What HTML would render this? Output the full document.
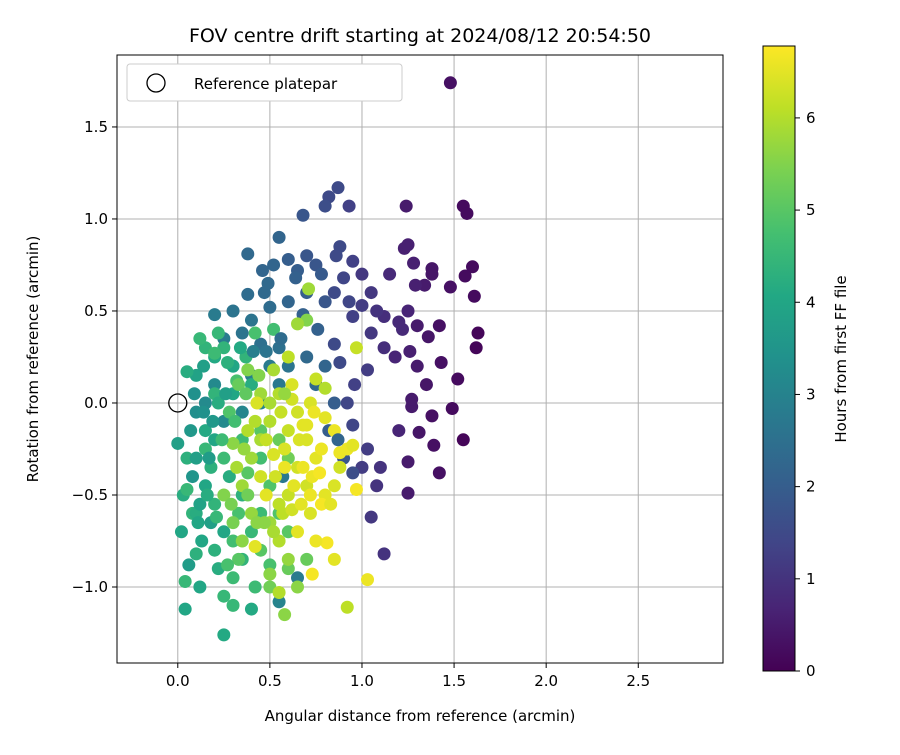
<!DOCTYPE html>
<html><head><meta charset="utf-8"><style>
body{margin:0;background:#fff;}
svg{font-family:"DejaVu Sans","Liberation Sans",sans-serif;}
</style></head><body>
<svg id="chart" width="900" height="750" xmlns="http://www.w3.org/2000/svg">
<defs>
<linearGradient id="vir" x1="0" y1="1" x2="0" y2="0">
<stop offset="0" stop-color="#440154"/><stop offset="0.1" stop-color="#482475"/><stop offset="0.2" stop-color="#414487"/><stop offset="0.3" stop-color="#355f8d"/><stop offset="0.4" stop-color="#2a788e"/><stop offset="0.5" stop-color="#21918c"/><stop offset="0.6" stop-color="#22a884"/><stop offset="0.7" stop-color="#44bf70"/><stop offset="0.8" stop-color="#7ad151"/><stop offset="0.9" stop-color="#bddf26"/><stop offset="1" stop-color="#fde725"/>
</linearGradient>
<clipPath id="pc"><rect x="117" y="55" width="606" height="608"/></clipPath>
</defs>
<text x="420" y="42" font-size="19" text-anchor="middle">FOV centre drift starting at 2024/08/12 20:54:50</text>
<g id="grid"></g>
<g id="pts" clip-path="url(#pc)"></g>
<circle id="refmark" r="9" fill="none" stroke="#000" stroke-width="1.3"/>
<rect x="117" y="55" width="606" height="608" fill="none" stroke="#000" stroke-width="1"/>
<g id="axes" font-size="15"></g>
<text x="420" y="721" font-size="15" text-anchor="middle">Angular distance from reference (arcmin)</text>
<text transform="translate(38,359) rotate(-90)" font-size="15" text-anchor="middle">Rotation from reference (arcmin)</text>
<g>
<rect x="127" y="64" width="275" height="37" rx="3" fill="#fff" stroke="#ccc"/>
<circle cx="156" cy="83" r="9" fill="none" stroke="#000" stroke-width="1.3"/>
<text x="194" y="89" font-size="15">Reference platepar</text>
</g>
<rect x="763" y="46" width="32" height="625" fill="url(#vir)" stroke="#000" stroke-width="1"/>
<g id="cbticks" font-size="15"></g>
<text transform="translate(846,359) rotate(-90)" font-size="15" text-anchor="middle">Hours from first FF file</text>
</svg>
<script>
const xTicks=[0,0.5,1.0,1.5,2.0,2.5];
const yTicks=[-1.0,-0.5,0.0,0.5,1.0,1.5];
const cbTicks=[0,1,2,3,4,5,6];
const ptX=[1.48,1.55,1.57,1.24,1.6,1.56,1.61,1.63,1.62,1.48,1.42,1.38,1.38,1.34,1.29,1.25,1.22,1.2,1.36,1.43,1.52,1.49,1.38,1.55,1.42,1.39,1.25,1.25,1.27,1.31,1.2,1.12,1.08,1.05,1.1,1.03,1.0,1.35,1.3,1.27,1.18,1.12,1.08,1.05,1.0,0.95,1.0,1.05,1.15,1.23,1.25,1.28,1.26,1.3,1.12,1.03,0.96,0.92,0.95,0.88,0.85,0.95,0.88,0.86,0.93,0.82,0.87,0.8,0.7,0.75,0.68,0.9,0.93,0.85,
0.55,0.38,0.52,0.46,0.6,0.65,0.47,0.38,0.5,0.6,0.7,0.78,0.8,0.68,0.4,0.3,0.2,0.25,0.35,0.45,0.55,0.6,0.7,0.8,0.75,0.85,0.82,0.9,0.95,0.55,0.5,0.4,0.3,0.2,0.15,0.1,0.25,0.35,0.45,0.57,0.55,0.65,
0.0,0.03,0.05,0.04,0.04,0.1,0.13,0.12,0.08,0.05,0.1,0.15,0.2,0.18,0.25,0.22,0.3,0.25,0.3,0.25,0.4,0.42,0.5,0.35,0.3,0.4,0.45,0.35,0.28,0.2,0.15,0.1,0.05,0.15,0.12,0.22,0.2,0.3,0.37,0.4,0.3,0.2,0.35,0.45,0.5,0.55,0.6,0.45,0.6,0.7,0.5,0.58,0.65,0.02,0.25,0.42,0.52,0.32,0.25,0.15,0.1,0.2,0.33,0.38,0.45,0.55,0.6,
0.92,1.03,0.97,0.88,0.92,0.95,0.97,0.81,0.85,0.73,0.75,0.65,0.72,0.8,0.7,0.6,0.65,0.75,0.7,0.6,0.65,0.72,0.8,0.85,0.62,0.75,0.8,0.55,0.5,0.45,0.4,0.35,0.48,0.55,0.5,0.4,0.35,0.42,0.55,0.6,0.5,0.55,0.45,0.38,0.52,0.6,0.71,0.7,0.65,0.3,0.25,0.3,0.85,0.88,0.78,0.68,0.58,0.52,0.45,0.38,0.43,0.32,
0.08,0.12,0.18,0.07,0.14,0.22,0.28,0.33,0.17,0.24,0.29,0.36,0.42,0.48,0.53,0.58,0.63,0.68,0.73,0.78,0.83,0.47,0.52,0.57,0.62,0.67,0.72,0.77,0.38,0.43,0.33,0.27,0.21,0.16,0.11,0.06,0.09,0.19,0.26,0.31,0.37,0.44,0.5,0.56,0.62,0.66,0.7,0.74,0.56,0.48,0.41,0.34,0.27,0.2,0.14,0.49,0.64,0.76,0.58,0.87];
const ptY=[1.74,1.07,1.03,1.07,0.74,0.69,0.58,0.38,0.3,0.63,0.42,0.73,0.7,0.64,0.64,0.5,0.4,0.44,0.36,0.22,0.13,-0.03,-0.07,-0.2,-0.38,-0.23,-0.32,-0.49,-0.02,-0.16,-0.15,-0.82,-0.45,-0.62,-0.35,-0.25,-0.35,0.1,0.2,0.02,0.25,0.47,0.5,0.38,0.53,0.47,0.7,0.6,0.7,0.84,0.86,0.76,0.28,0.42,0.3,0.18,0.1,0.0,-0.12,0.22,0.32,0.77,0.85,0.8,1.07,1.12,1.17,1.07,0.8,0.75,1.02,0.68,0.55,0.6,
0.9,0.81,0.75,0.72,0.78,0.72,0.6,0.59,0.52,0.55,0.6,0.7,0.55,0.48,0.45,0.5,0.48,0.35,0.38,0.32,0.3,0.2,0.25,0.2,0.1,0.0,-0.15,-0.3,-0.38,0.1,0.2,0.15,0.2,0.1,0.0,-0.05,-0.1,-0.05,0.0,-0.4,-1.08,-0.95,
-0.22,-0.5,-0.47,-0.97,-1.12,-0.82,-0.75,-1.0,-0.6,-0.3,-0.3,-0.45,-0.55,-0.65,-0.7,-0.9,-0.95,-1.05,-1.1,-1.26,-1.12,-1.0,-0.88,-0.85,-0.75,-0.7,-0.6,-0.5,-0.4,-0.2,-0.15,0.15,0.17,0.3,0.35,0.38,0.25,0.2,0.25,0.1,0.05,0.05,-0.2,-0.3,-0.45,-0.6,-0.7,-0.8,-0.9,-0.85,-1.0,-1.15,-1.0,-0.7,0.3,0.38,0.4,0.12,-0.3,-0.25,-0.6,-0.8,-0.6,-0.38,-0.15,-0.2,-0.3,
-1.11,-0.96,-0.47,-0.27,-0.25,-0.23,0.3,-0.76,-0.85,-0.93,-0.75,-0.7,-0.6,-0.5,-0.45,-0.5,-0.35,-0.3,-0.2,-0.15,-0.05,0.0,-0.08,-0.15,0.1,0.13,0.08,0.05,-0.1,-0.2,-0.3,-0.45,-0.5,-0.55,-0.65,-0.6,-0.75,-0.78,-0.75,-0.85,-0.93,-1.03,0.05,0.18,0.18,0.25,0.62,0.45,0.43,-0.22,-0.5,-0.65,-0.45,-0.35,-0.25,-0.12,-0.35,-0.28,-0.4,-0.15,0.0,-0.35,
-0.4,-0.55,-0.35,-0.15,-0.05,0.0,-0.05,0.1,-0.3,-0.2,-0.55,-0.25,-0.1,-0.2,-0.4,-0.25,-0.45,-0.35,-0.4,-0.55,-0.55,-0.65,-0.7,-0.6,-0.58,-0.55,-0.5,-0.38,-0.5,-0.65,-0.85,-0.88,-0.62,-0.5,-0.65,-0.88,0.05,-0.1,0.05,-0.1,0.05,0.15,0.0,-0.05,0.02,-0.2,-0.12,-0.05,0.35,0.28,0.28,0.3,0.22,0.27,0.2,0.65,0.68,0.4,0.05,-0.2];
const ptHours=[0.3,0.2,0.2,0.5,0.2,0.2,0.2,0.1,0.1,0.3,0.3,0.4,0.4,0.5,0.6,0.7,0.8,0.8,0.4,0.3,0.2,0.2,0.3,0.1,0.3,0.3,0.5,0.5,0.5,0.4,0.7,1.0,1.0,1.1,1.0,1.2,1.2,0.4,0.5,0.5,0.7,0.9,1.0,1.1,1.2,1.3,1.1,1.1,0.8,0.6,0.6,0.6,0.6,0.5,0.9,1.2,1.3,1.4,1.4,1.5,1.5,1.3,1.5,1.5,1.3,1.5,1.5,1.6,1.8,1.8,1.8,1.4,1.4,1.5,
2.2,2.3,2.2,2.2,2.0,2.0,2.3,2.4,2.4,2.2,2.0,1.9,1.8,2.1,2.6,2.6,2.8,2.8,2.6,2.5,2.5,2.6,2.3,2.2,2.3,2.0,2.0,1.8,1.6,2.7,2.8,2.9,3.0,3.2,3.2,3.3,3.2,3.1,3.0,2.7,3.0,2.8,
3.8,4.2,4.5,4.5,4.0,4.3,4.0,4.0,4.4,4.3,3.8,4.0,4.4,3.8,4.0,4.2,4.6,4.5,4.5,4.1,4.1,4.6,4.8,4.4,4.7,4.5,4.6,4.3,4.2,4.0,4.1,3.9,4.2,4.4,4.5,4.5,4.1,4.0,4.4,4.2,4.0,4.4,4.6,4.7,4.9,4.9,5.0,5.0,5.2,5.2,5.3,5.6,5.6,4.0,4.4,4.8,4.7,4.8,4.6,4.5,4.2,4.3,4.8,5.0,5.0,5.2,5.3,
6.1,6.6,6.7,6.6,6.6,6.5,6.2,6.7,6.5,6.7,6.6,6.5,6.4,6.5,6.3,6.2,6.3,6.5,6.4,6.2,6.3,6.4,6.5,6.6,6.4,6.2,6.0,6.0,6.0,5.9,5.8,5.8,6.5,6.1,5.8,5.7,5.6,6.5,6.0,5.7,5.6,6.0,5.8,5.5,5.9,6.1,5.8,5.5,5.8,5.6,5.5,5.4,6.4,6.3,6.6,6.5,6.6,6.4,6.3,6.0,6.4,5.9,
3.5,3.9,4.3,3.6,3.4,4.2,4.9,5.2,3.7,4.6,5.4,5.7,6.0,6.2,6.3,6.4,6.5,6.6,6.6,6.7,6.5,5.6,5.9,6.1,6.3,6.5,6.6,6.7,5.3,5.6,5.0,4.8,4.5,4.2,4.0,3.7,3.4,3.6,3.8,4.7,5.1,5.5,5.9,6.2,6.3,6.4,6.5,6.6,2.4,2.6,2.9,4.1,4.3,4.6,3.8,2.3,2.1,2.1,5.7,2.2];
const X0=-0.33,X1=2.96,Y0=-1.413,Y1=1.891,PL=117,PR=723,PT=55,PB=663,CMAX=6.78;
const sx=v=>PL+(v-X0)/(X1-X0)*(PR-PL);
const sy=v=>PB-(v-Y0)/(Y1-Y0)*(PB-PT);
const cy=v=>671-v/CMAX*625;
const vir=[[68,1,84],[72,36,117],[65,68,135],[53,95,141],[42,120,142],[33,145,140],[34,168,132],[68,191,112],[122,209,81],[189,223,38],[253,231,37]];
function cmap(t){t=Math.max(0,Math.min(1,t/CMAX))*10;const i=Math.min(9,Math.floor(t)),f=t-i;const a=vir[i],b=vir[i+1];return `rgb(${a.map((c,k)=>Math.round(c+(b[k]-c)*f)).join(',')})`;}
const NS="http://www.w3.org/2000/svg";
function mk(tag,attrs,parent,txt){const e=document.createElementNS(NS,tag);for(const k in attrs)e.setAttribute(k,attrs[k]);if(txt!==undefined)e.textContent=txt;parent.appendChild(e);return e;}
const grid=document.getElementById('grid'),axes=document.getElementById('axes'),pts=document.getElementById('pts'),cb=document.getElementById('cbticks');
const fmt=v=>(v<0?'\u2212':'')+Math.abs(v).toFixed(1);
xTicks.forEach(v=>{const x=sx(v);
const g=mk('line',{x1:x,x2:x,y1:PT,y2:PB,stroke:'#b0b0b0','stroke-width':1},grid);


const t=mk('line',{x1:x,x2:x,y1:PB,y2:PB+5,stroke:'#000'},axes);


const l=mk('text',{x:x,y:PB+23,'text-anchor':'middle'},axes,fmt(v));

});
yTicks.forEach(v=>{const y=sy(v);
const g=mk('line',{x1:PL,x2:PR,y1:y,y2:y,stroke:'#b0b0b0','stroke-width':1},grid);


const t=mk('line',{x1:PL-5,x2:PL,y1:y,y2:y,stroke:'#000'},axes);


const l=mk('text',{x:PL-9,y:y+5,'text-anchor':'end'},axes,fmt(v));

});
ptX.forEach((xv,i)=>{const c=mk('circle',{cx:sx(xv),cy:sy(ptY[i]),r:6.5,fill:cmap(ptHours[i])},pts);

});
const rm=document.getElementById('refmark');rm.setAttribute('cx',sx(0));rm.setAttribute('cy',sy(0));
cbTicks.forEach(v=>{const y=cy(v);
const t=mk('line',{x1:795,x2:800,y1:y,y2:y,stroke:'#000'},cb);


const l=mk('text',{x:806,y:y+5},cb,String(v));

});
</script>
</body></html>
